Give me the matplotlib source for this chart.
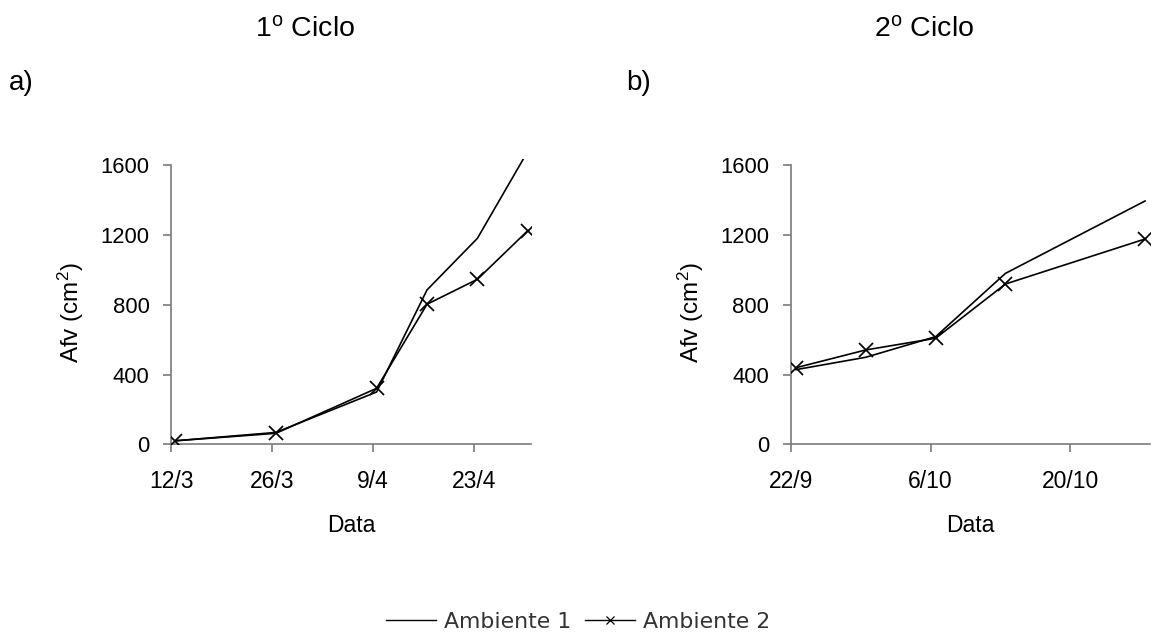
import datetime as dt
import matplotlib
matplotlib.use("Agg")
import matplotlib.pyplot as plt
from matplotlib.lines import Line2D
from matplotlib.ticker import FixedLocator, FuncFormatter
import matplotlib.dates as mdates

plt.rcParams["font.family"] = ["Liberation Sans", "DejaVu Sans"]
plt.rcParams["mathtext.default"] = "regular"

# ---- data -------------------------------------------------------------
YEAR = 2004
dates_c1 = ["12/3", "26/3", "9/4", "16/4", "23/4", "30/4"]
amb1_c1 = [20, 68, 300, 885, 1181, 1680]
amb2_c1 = [20, 63, 321, 803, 946, 1225]
ticks_c1 = ["12/3", "26/3", "9/4", "23/4"]
xlim_c1 = ("12/3", "1/5")

dates_c2 = ["22/9", "29/9", "6/10", "13/10", "27/10"]
amb1_c2 = [428, 499, 617, 980, 1395]
amb2_c2 = [439, 541, 608, 919, 1177]
ticks_c2 = ["22/9", "6/10", "20/10"]
xlim_c2 = ("22/9", "28/10")

y_ticks = [0, 400, 800, 1200, 1600]
titles = ["1$^{o}$ Ciclo", "2$^{o}$ Ciclo"]
panel_tags = ["a)", "b)"]
series_names = ["Ambiente 1", "Ambiente 2"]


def to_num(s):
    d, m = (int(v) for v in s.split("/"))
    return mdates.date2num(dt.datetime(YEAR, m, d))


def fmt_date(x, pos=None):
    d = mdates.num2date(x)
    return f"{d.day}/{d.month}"


AXIS_COLOR = "#7a7a7a"

fig = plt.figure(figsize=(11.57, 6.39), dpi=100)
ax1 = fig.add_axes([0.1482, 0.3047, 0.3111, 0.4463])
ax2 = fig.add_axes([0.6837, 0.3047, 0.3103, 0.4463])

panels = [
    (ax1, dates_c1, amb1_c1, amb2_c1, ticks_c1, xlim_c1),
    (ax2, dates_c2, amb1_c2, amb2_c2, ticks_c2, xlim_c2),
]

for ax, dates, a1, a2, ticks, xl in panels:
    # points sit in the middle of each day
    x = [to_num(d) + 0.5 for d in dates]
    ax.plot(x, a1, color="black", lw=1.2, zorder=3)
    ax.plot(x, a2, color="black", lw=1.2, marker="x", markersize=10,
            mew=1.25, zorder=4)
    ax.set_xlim(to_num(xl[0]), to_num(xl[1]))
    ax.set_ylim(0, 1635)
    ax.xaxis.set_major_locator(FixedLocator([to_num(t) for t in ticks]))
    ax.xaxis.set_major_formatter(FuncFormatter(fmt_date))
    ax.set_yticks(y_ticks)
    for side in ("top", "right"):
        ax.spines[side].set_visible(False)
    for side in ("left", "bottom"):
        ax.spines[side].set_color(AXIS_COLOR)
        ax.spines[side].set_linewidth(1.2)
    ax.spines["left"].set_bounds(0, 1600)
    ax.tick_params(axis="both", direction="out", length=5.8, width=1.2,
                   color=AXIS_COLOR)
    ax.tick_params(axis="y", pad=10, labelsize=15.8)
    ax.tick_params(axis="x", pad=13, labelsize=16.5)
    ax.set_xlabel("Data", fontsize=16.5)
    ax.xaxis.set_label_coords(0.5, -0.284)
    ax.xaxis.label.set_va("center")
    ax.set_ylabel("Afv (cm$^{2}$)", fontsize=17.5)
    ax.yaxis.set_label_coords(-0.28, 0.462)
    ax.yaxis.label.set_va("center")

# panel titles and tags
fig.text(305 / 1157, 1 - 36.7 / 639, titles[0], fontsize=20.5,
         ha="center", va="baseline")
fig.text(924 / 1157, 1 - 36.7 / 639, titles[1], fontsize=20.5,
         ha="center", va="baseline")
fig.text(9 / 1157, 1 - 90 / 639, panel_tags[0], fontsize=20,
         ha="left", va="baseline")
fig.text(626 / 1157, 1 - 90 / 639, panel_tags[1], fontsize=20,
         ha="left", va="baseline")

# shared legend
handles = [
    Line2D([], [], color="black", lw=1.0),
    Line2D([], [], color="black", lw=1.0, marker="x", markersize=5.5,
           mew=0.9),
]
leg = fig.legend(handles, series_names, loc="center",
                 bbox_to_anchor=(578 / 1157, 1 - 622 / 639), ncol=2,
                 frameon=False, handlelength=2.3, handletextpad=0.35,
                 columnspacing=0.6,
                 prop={"family": "DejaVu Sans", "size": 15.8})
for t in leg.get_texts():
    t.set_color("#333333")

fig.savefig("out.png", dpi=100)
